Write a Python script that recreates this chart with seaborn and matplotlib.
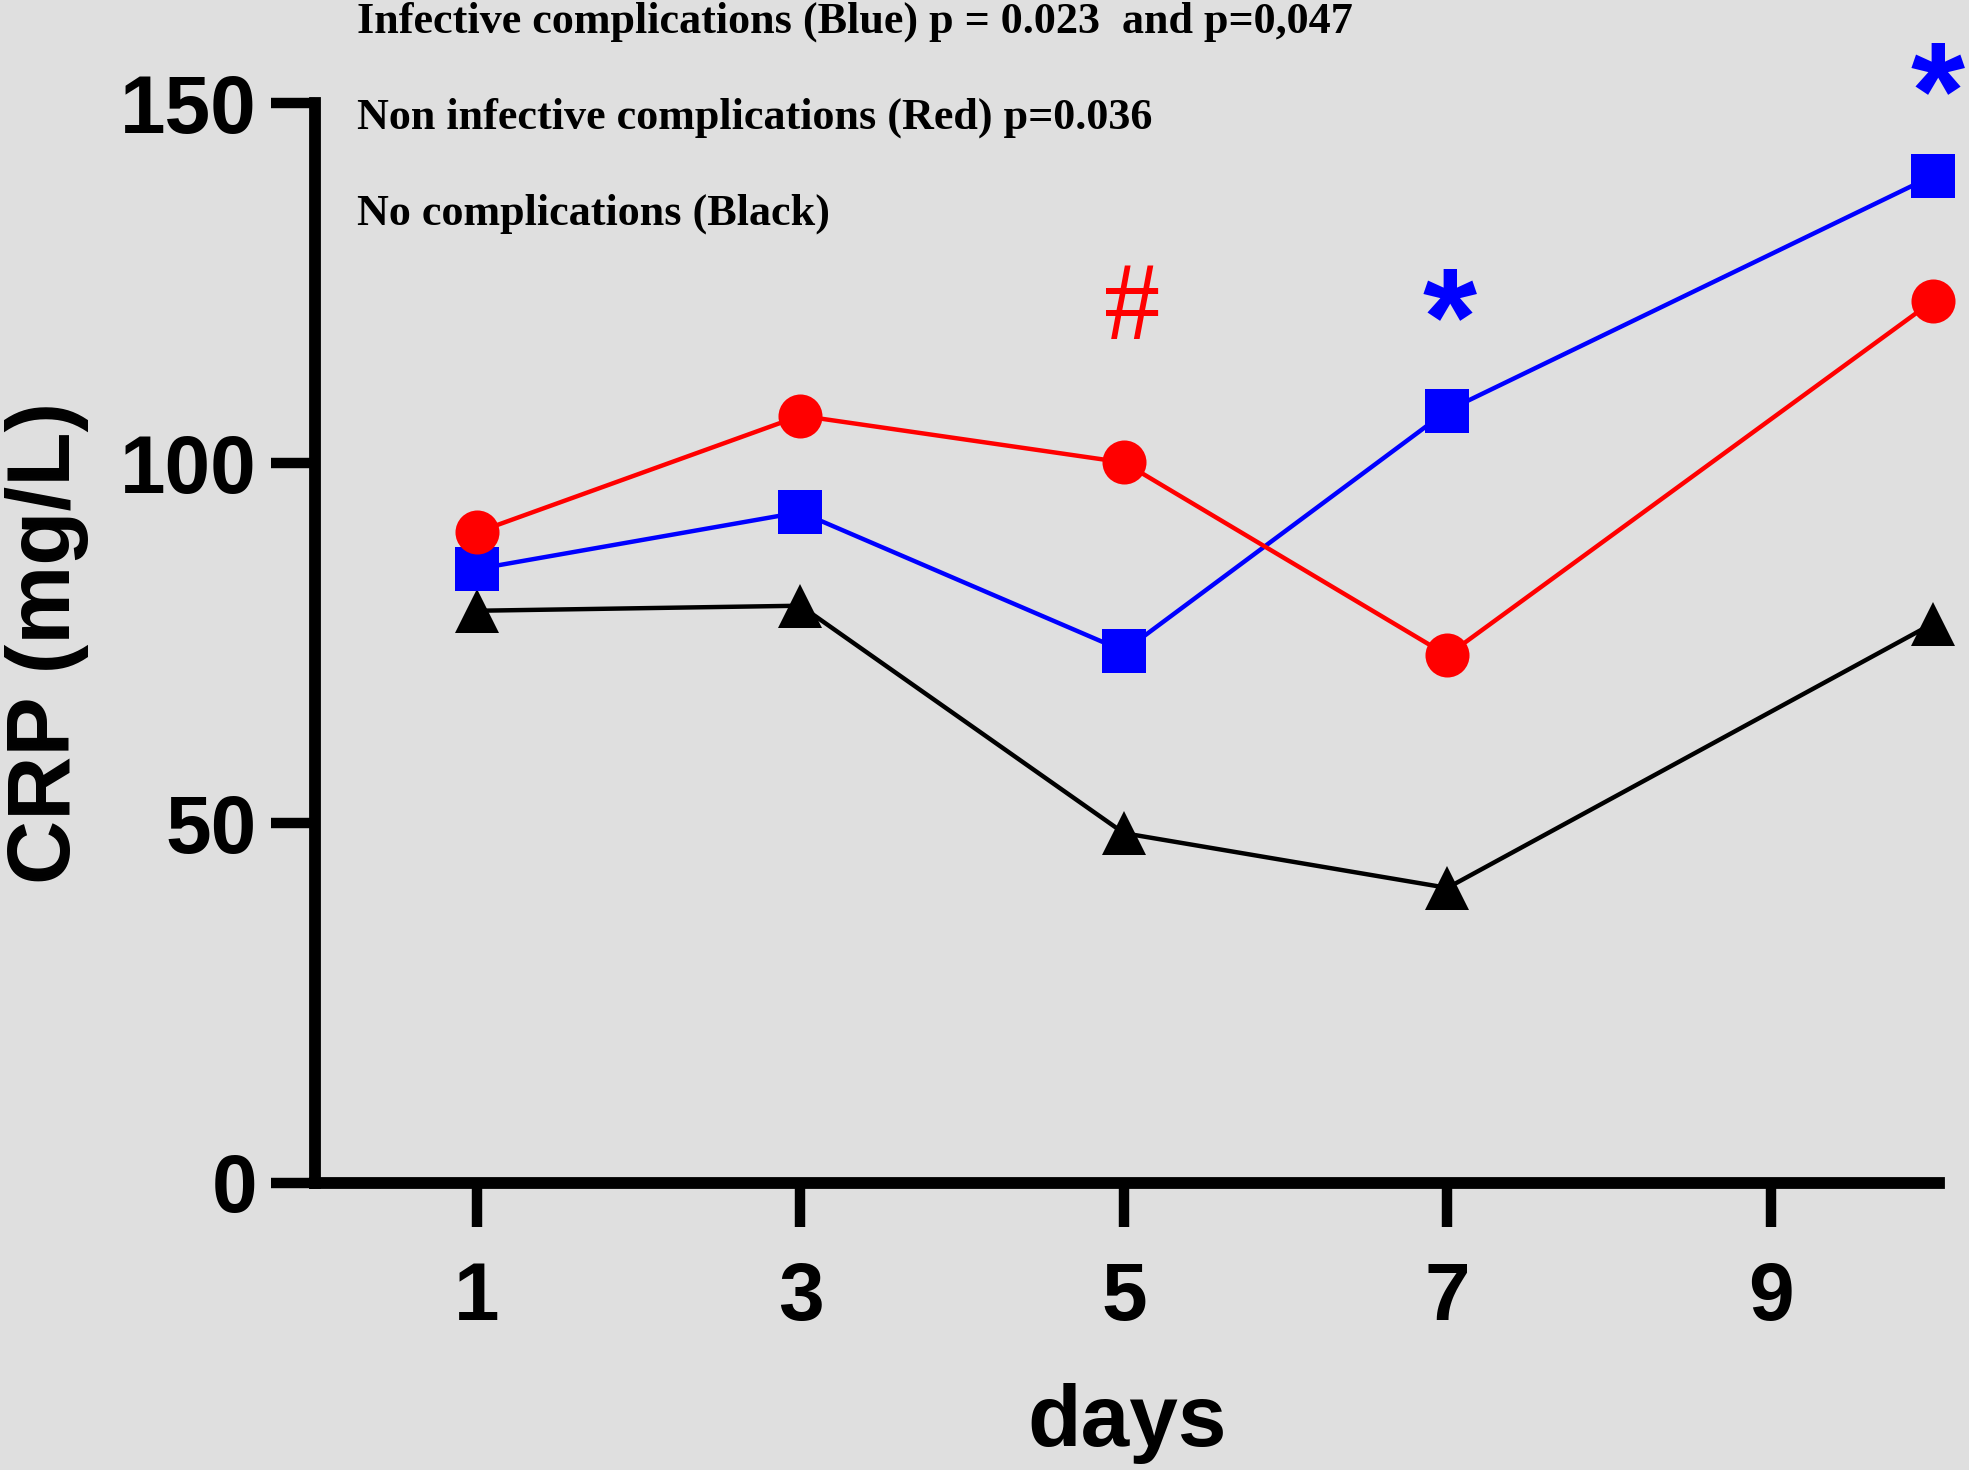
import seaborn as sns
import matplotlib.pyplot as plt
import pandas as pd

# CRP values
days = [1, 3, 5, 7, 10]
infective = [85.3, 93.2, 73.9, 107.3, 139.9]
non_infective = [90.4, 106.6, 100.1, 73.3, 122.5]
no_complications = [79.5, 80.2, 48.6, 41.0, 77.7]

groups = ["No complications", "Infective", "Non infective"]
colors = {"No complications": "black", "Infective": "#0000ff", "Non infective": "#ff0000"}
markers = {"No complications": "^", "Infective": "s", "Non infective": "o"}

x_ticks = [1, 3, 5, 7, 9]
y_ticks = [0, 50, 100, 150]

notes = [
    "Infective complications (Blue) p = 0.023  and p=0,047",
    "Non infective complications (Red) p=0.036",
    "No complications (Black)",
]

df = pd.concat([
    pd.DataFrame({"day": days, "crp": infective, "group": "Infective"}),
    pd.DataFrame({"day": days, "crp": non_infective, "group": "Non infective"}),
    pd.DataFrame({"day": days, "crp": no_complications, "group": "No complications"}),
])

sns.set_style("ticks")
bg = "#dfdfdf"
plt.rcParams["font.family"] = ["Liberation Sans", "DejaVu Sans"]
plt.rcParams["font.weight"] = "bold"
for key in ["text.color", "axes.labelcolor", "xtick.color", "ytick.color", "axes.edgecolor"]:
    plt.rcParams[key] = "black"

fig = plt.figure(figsize=(19.69, 14.70), dpi=100, facecolor=bg)
ax = fig.add_axes([0.16013, 0.19524, 0.82463, 0.73449], facecolor=bg)

sns.lineplot(data=df, x="day", y="crp", hue="group", style="group",
             hue_order=groups, style_order=groups, palette=colors,
             markers=markers, dashes=False, errorbar=None, legend=False,
             markersize=31.7, markeredgewidth=0, linewidth=3.2, ax=ax)
for line in ax.lines:
    line.set_clip_on(False)

ax.set_xlim(0, 10.04)
ax.set_ylim(0, 150)
ax.set_xticks(x_ticks)
ax.set_yticks(y_ticks)
for side in ["top", "right"]:
    ax.spines[side].set_visible(False)
for side in ["left", "bottom"]:
    ax.spines[side].set_linewidth(8.5)
    ax.spines[side].set_color("black")
ax.tick_params(axis="both", direction="out", length=32, width=7.5, labelsize=59,
               color="black", labelcolor="black")
ax.tick_params(axis="x", pad=24)
ax.tick_params(axis="y", pad=10)
for lab in ax.get_xticklabels() + ax.get_yticklabels():
    lab.set_fontweight("bold")

ax.set_xlabel("days", fontsize=63, fontweight="bold", color="black")
ax.set_ylabel("CRP (mg/L)", fontsize=64, fontweight="bold", color="black")
ax.xaxis.set_label_coords(0.5, -0.185)
ax.yaxis.set_label_coords(-0.1394, 0.5)

# p-value notes at the top
for txt, yy in zip(notes, [1.066, 0.9771, 0.8873]):
    ax.text(0.0257, yy, txt, transform=ax.transAxes, ha="left", va="baseline",
            fontsize=31.8, fontweight="bold", family="Liberation Serif", color="black")

# significance marks
ax.text(5.05, 117.3, "#", color="#ff0000", ha="center", va="baseline",
        fontsize=81, fontweight="normal", family="Liberation Serif")
ax.text(7.015, 113.7, "*", color="#0000ff", ha="center", va="baseline",
        fontsize=100, fontweight="bold")
ax.text(10.03, 145.2, "*", color="#0000ff", ha="center", va="baseline",
        fontsize=100, fontweight="bold")

fig.savefig("out.png", dpi=100, facecolor=bg)
